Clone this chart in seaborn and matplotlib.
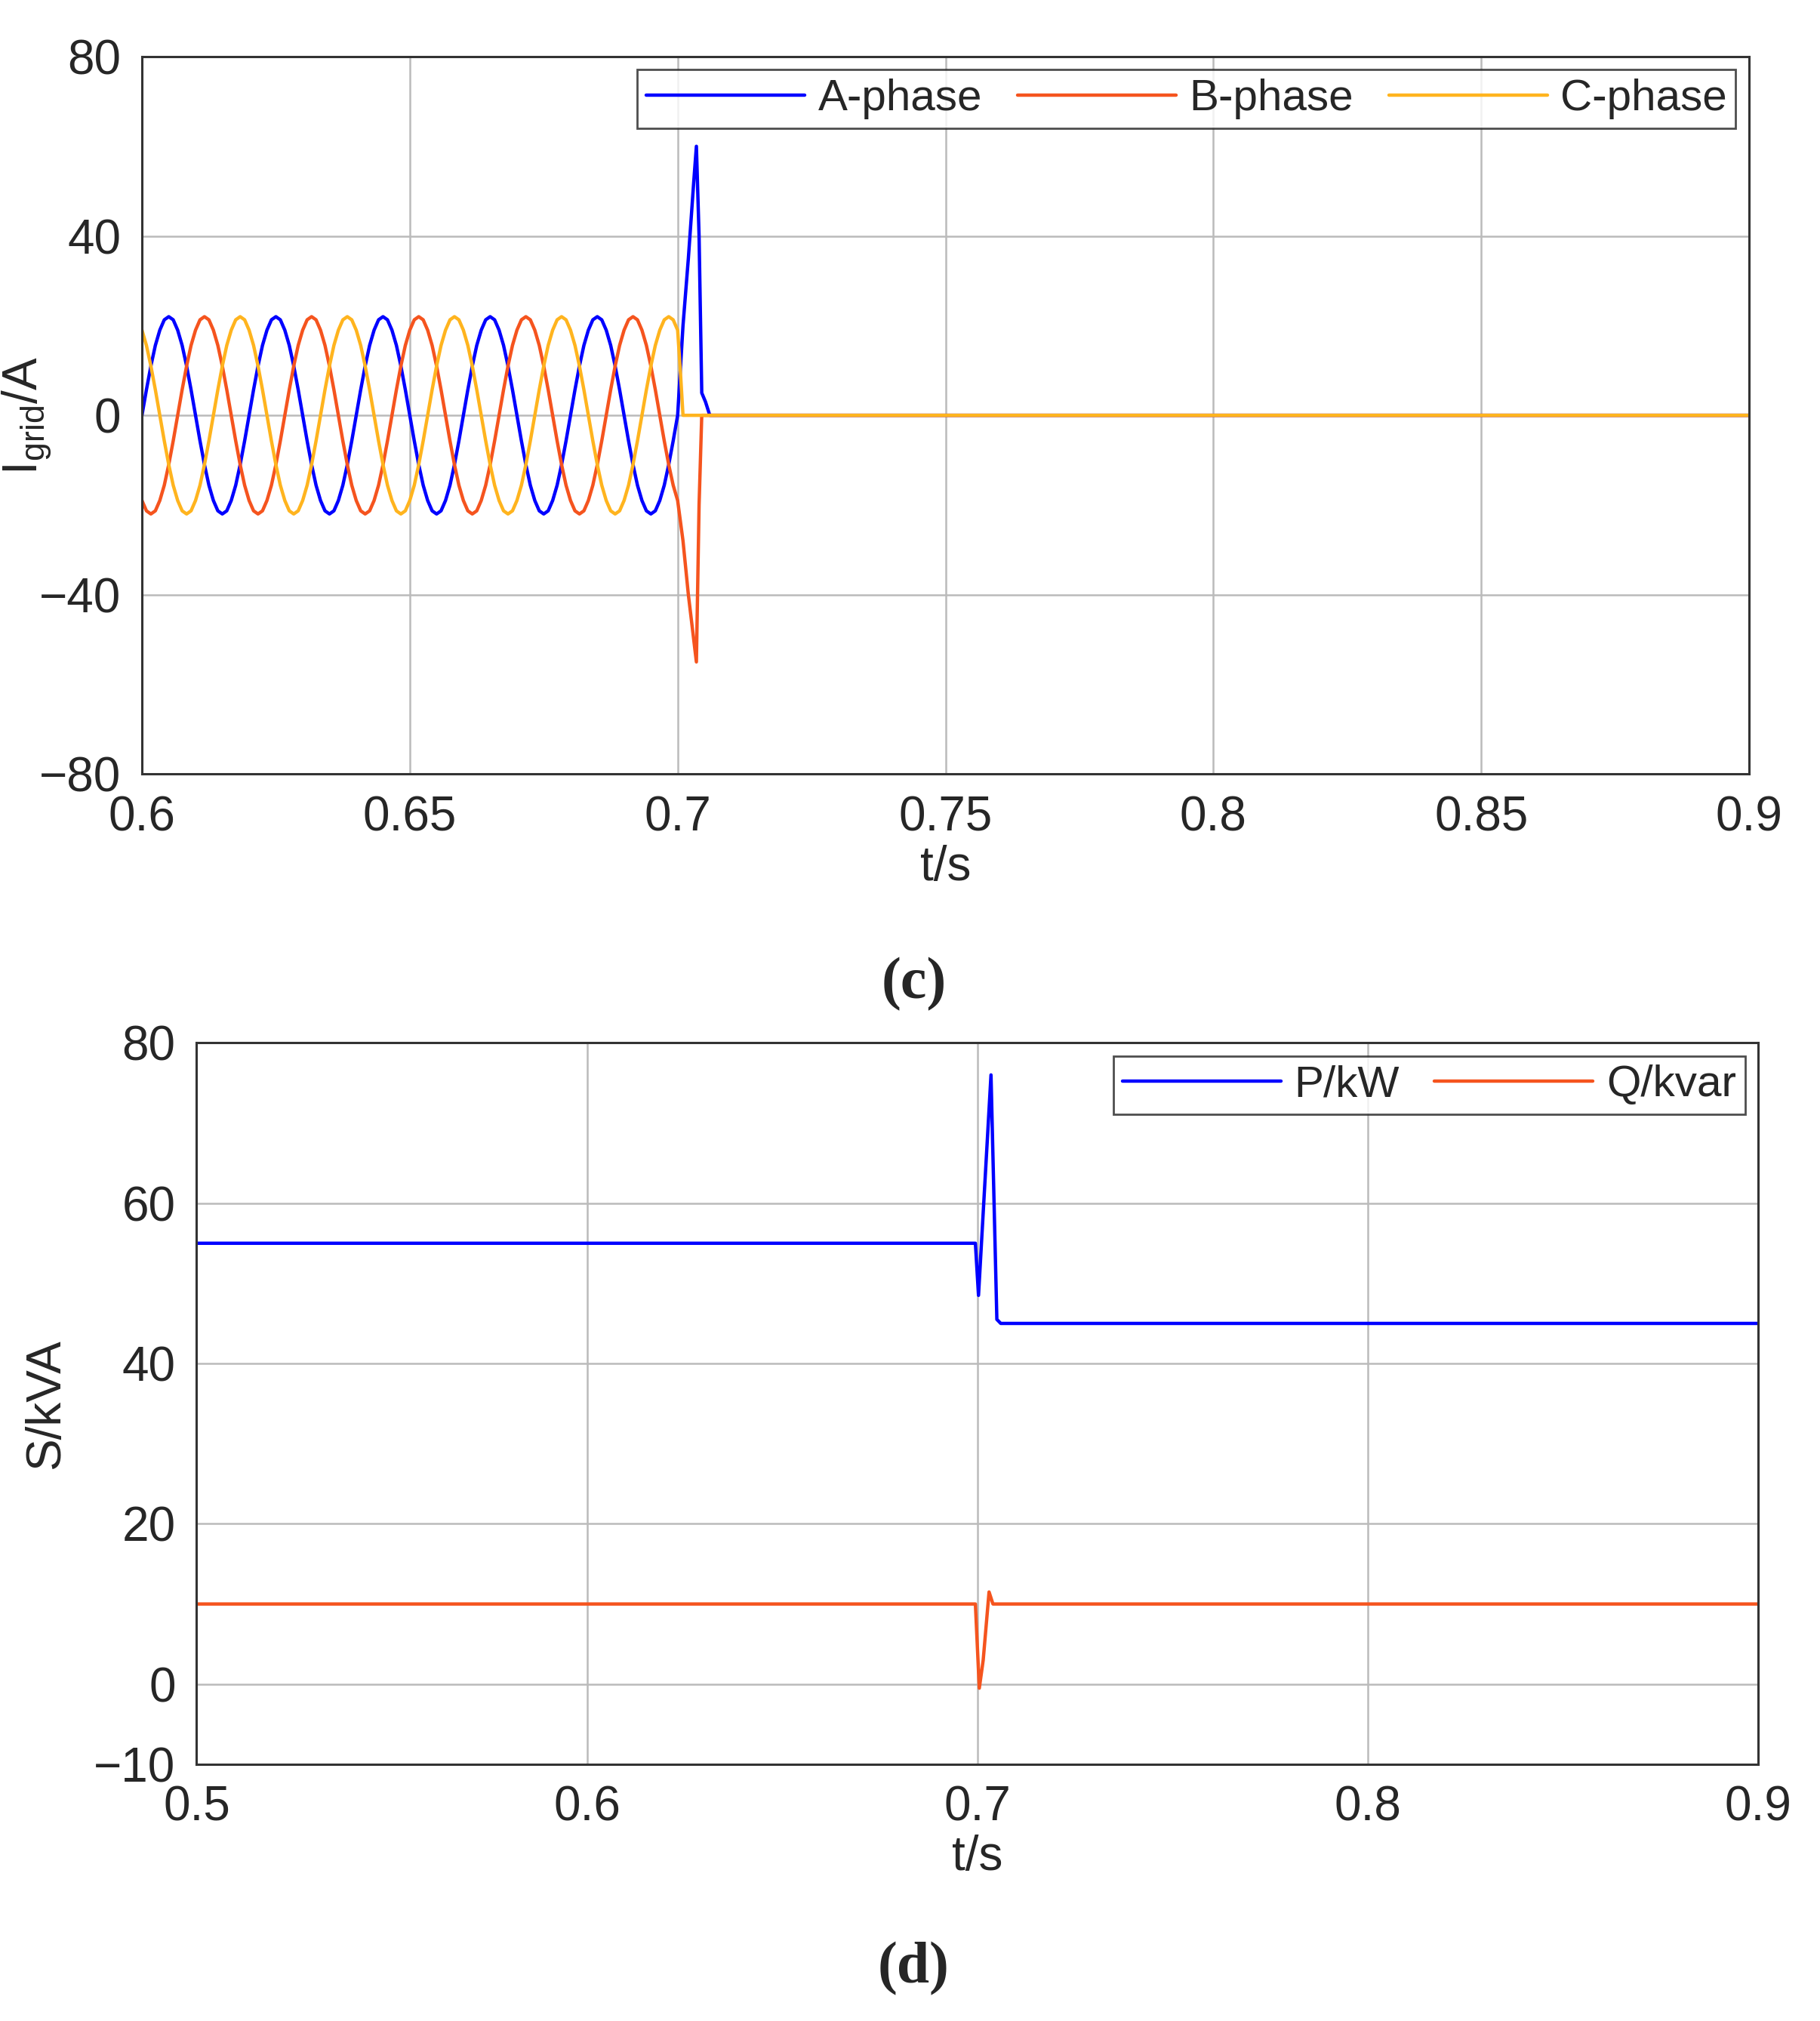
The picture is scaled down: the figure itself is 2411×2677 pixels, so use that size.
import numpy as np
import pandas as pd
import matplotlib
matplotlib.use("Agg")
import matplotlib.pyplot as plt
import seaborn as sns

# (c) grid currents, sampled every 1/24 of a 50 Hz cycle from 0.6 s to 0.7 s
STEP = 0.02 / 24
A_CYCLE = [0, 5.7, 11, 15.6, 19, 21.3, 22, 21.3, 19, 15.6, 11, 5.7,
           0, -5.7, -11, -15.6, -19, -21.3, -22, -21.3, -19, -15.6, -11, -5.7]
B_CYCLE = [-19, -21.3, -22, -21.3, -19, -15.6, -11, -5.7, 0, 5.7, 11, 15.6,
           19, 21.3, 22, 21.3, 19, 15.6, 11, 5.7, 0, -5.7, -11, -15.6]
C_CYCLE = [19, 15.6, 11, 5.7, 0, -5.7, -11, -15.6, -19, -21.3, -22, -21.3,
           -19, -15.6, -11, -5.7, 0, 5.7, 11, 15.6, 19, 21.3, 22, 21.3]
N_CYCLES = 5

# transient after the fault at 0.7 s
A_TAIL_T = [0.7, 0.7010, 0.7020, 0.7030, 0.7035, 0.7040, 0.7045, 0.7052, 0.7060, 0.9]
A_TAIL_V = [0, 20, 35, 52, 60, 40, 5, 3, 0, 0]
B_TAIL_T = [0.7, 0.7010, 0.7020, 0.7030, 0.7035, 0.7040, 0.7045, 0.9]
B_TAIL_V = [-19, -28, -40, -50, -55, -20, 0, 0]
C_TAIL_T = [0.7, 0.7005, 0.7010, 0.9]
C_TAIL_V = [19, 10, 0, 0]

# (d) power
P_T = [0.5, 0.6, 0.6995, 0.7003, 0.7035, 0.7050, 0.7060, 0.8, 0.9]
P_V = [55, 55, 55, 48.5, 76, 45.5, 45, 45, 45]
Q_T = [0.5, 0.6, 0.6995, 0.7005, 0.7015, 0.7030, 0.7040, 0.7060, 0.8, 0.9]
Q_V = [10, 10, 10, -0.5, 3, 11.5, 10, 10, 10, 10]

BLUE = "#0000FF"
ORANGE = "#F5541E"
YELLOW = "#FFB41E"


def phase_frame(cycle, tail_t, tail_v, name):
    values = cycle * N_CYCLES
    t = [0.6 + i * STEP for i in range(len(values))]
    return pd.DataFrame({"t": t + tail_t, "v": values + tail_v, "series": name})


df_i = pd.concat([
    phase_frame(A_CYCLE, A_TAIL_T, A_TAIL_V, "A-phase"),
    phase_frame(B_CYCLE, B_TAIL_T, B_TAIL_V, "B-phase"),
    phase_frame(C_CYCLE, C_TAIL_T, C_TAIL_V, "C-phase"),
])
df_s = pd.concat([
    pd.DataFrame({"t": P_T, "v": P_V, "series": "P/kW"}),
    pd.DataFrame({"t": Q_T, "v": Q_V, "series": "Q/kvar"}),
])

sns.set_style("white")
plt.rcParams["font.family"] = ["Liberation Sans", "DejaVu Sans"]
plt.rcParams["mathtext.fontset"] = "custom"
plt.rcParams["mathtext.rm"] = "Liberation Sans"
FS = 46
LFS = 42

fig = plt.figure(figsize=(24.11, 26.77), dpi=100)
ax1 = fig.add_axes([0.078, 0.617, 0.883, 0.355])
ax2 = fig.add_axes([0.108, 0.127, 0.858, 0.357])


def style(ax):
    ax.grid(True, color="#bbbbbb", linewidth=1.8)
    for s in ax.spines.values():
        s.set_color("#333333")
        s.set_linewidth(2.2)
    ax.tick_params(labelsize=FS, length=0, pad=20)
    ax.set_xlabel("t/s", fontsize=FS, labelpad=4)


def legend(ax, ncol):
    leg = ax.legend(loc="upper right", ncol=ncol, fontsize=LFS, frameon=True, fancybox=False,
                    handlelength=3.6, handletextpad=0.3, borderaxespad=0.3,
                    columnspacing=0.8, borderpad=0.2)
    leg.get_frame().set_edgecolor("#222222")
    leg.get_frame().set_linewidth(2)


sns.lineplot(data=df_i, x="t", y="v", hue="series", sort=False, estimator=None,
             palette=[BLUE, ORANGE, YELLOW], linewidth=3.2, ax=ax1)
ax1.set_xlim(0.6, 0.9)
ax1.set_ylim(-80, 80)
ax1.set_xticks([0.6, 0.65, 0.7, 0.75, 0.8, 0.85, 0.9])
ax1.set_xticklabels(["0.6", "0.65", "0.7", "0.75", "0.8", "0.85", "0.9"])
ax1.set_yticks([-80, -40, 0, 40, 80])
ax1.set_ylabel(r"I$_{\rm grid}$/A", fontsize=FS, labelpad=-14)
style(ax1)
legend(ax1, 3)

sns.lineplot(data=df_s, x="t", y="v", hue="series", sort=False, estimator=None,
             palette=[BLUE, ORANGE], linewidth=3.2, ax=ax2)
ax2.set_xlim(0.5, 0.9)
ax2.set_ylim(-10, 80)
ax2.set_xticks([0.5, 0.6, 0.7, 0.8, 0.9])
ax2.set_yticks([-10, 0, 20, 40, 60, 80])
ax2.set_ylabel("S/kVA", fontsize=FS, labelpad=24)
style(ax2)
legend(ax2, 2)

fig.text(0.502, 0.513, "(c)", ha="center", va="center", fontsize=56,
         fontweight="bold", family="Liberation Serif")
fig.text(0.502, 0.026, "(d)", ha="center", va="center", fontsize=56,
         fontweight="bold", family="Liberation Serif")

fig.savefig("out.png", dpi=100)
